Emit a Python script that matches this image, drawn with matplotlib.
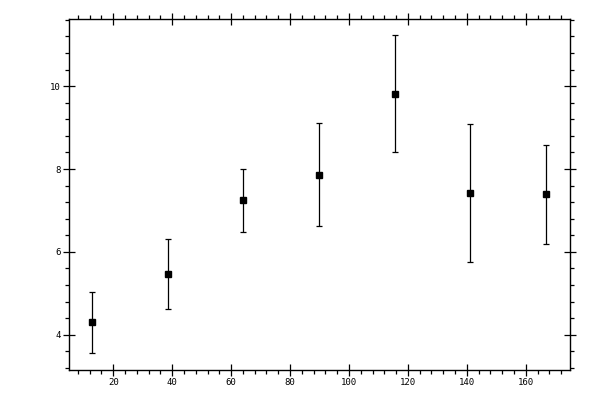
import numpy as np
import matplotlib
matplotlib.use('Agg')
import matplotlib.pyplot as plt
from matplotlib.ticker import MultipleLocator

#data
x = [12.9, 38.7, 64.1, 89.9, 115.7, 141.2, 167.0]
y = [4.30, 5.46, 7.25, 7.85, 9.81, 7.42, 7.39]
y_hi = [5.03, 6.31, 8.01, 9.10, 11.23, 9.08, 8.57]
y_lo = [3.56, 4.62, 6.48, 6.62, 8.41, 5.75, 6.19]

x = np.array(x)
y = np.array(y)
err = np.vstack([y - np.array(y_lo), np.array(y_hi) - y])

fig = plt.figure(figsize=(6, 4), dpi=100)
ax = fig.add_axes([69/600, 30/400, 501/600, 351/400])

ax.errorbar(x, y, yerr=err, fmt='s', color='black', ms=5, mec='black',
            ecolor='black', elinewidth=0.9, capsize=2, capthick=0.9)

ax.set_xlim(5, 175)
ax.set_ylim(3.15, 11.62)

ax.xaxis.set_major_locator(MultipleLocator(20))
ax.xaxis.set_minor_locator(MultipleLocator(4))
ax.yaxis.set_major_locator(MultipleLocator(2))
ax.yaxis.set_minor_locator(MultipleLocator(0.4))

ax.tick_params(which='major', direction='inout', length=8, width=0.9,
               top=True, right=True, labelsize=6.5, pad=2)
ax.tick_params(which='minor', direction='out', length=3, width=0.9,
               top=True, right=True)
for s in ax.spines.values():
    s.set_linewidth(1.0)

for lab in ax.get_xticklabels() + ax.get_yticklabels():
    lab.set_family('DejaVu Sans Mono')

fig.savefig('out.png', dpi=100)
